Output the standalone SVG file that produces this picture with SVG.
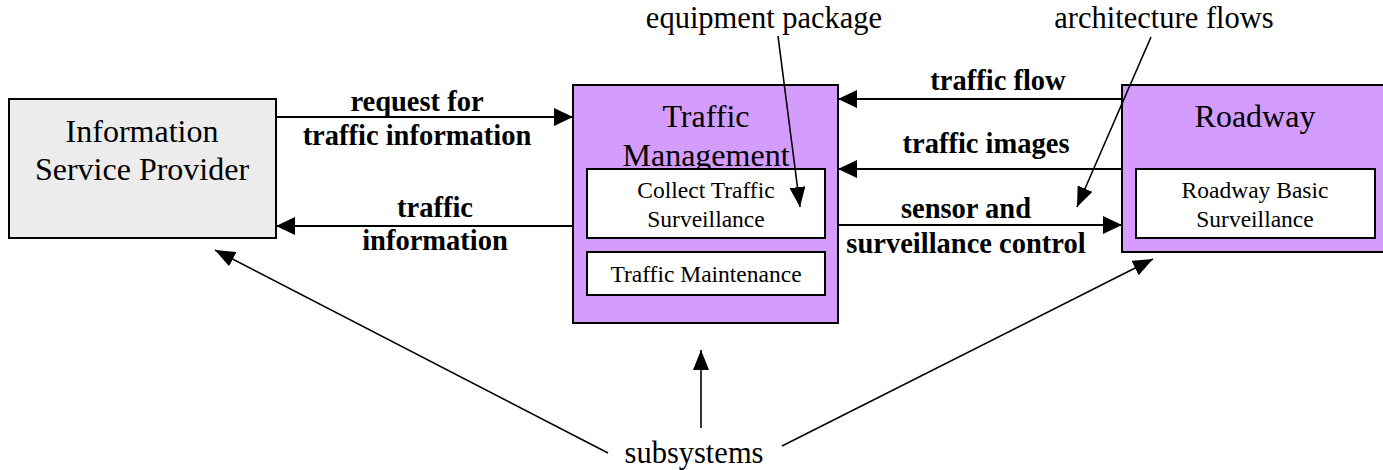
<svg xmlns="http://www.w3.org/2000/svg" width="1383" height="470" viewBox="0 0 1383 470">
<style>
.box{stroke:#000;stroke-width:2}
.gray{fill:#ececec}
.purple{fill:#d49cfd}
.inner{fill:#fff;stroke:#000;stroke-width:2}
.big{font-family:"Liberation Serif",serif;font-size:32px;text-anchor:middle;fill:#000}
.small{font-family:"Liberation Serif",serif;font-size:23.5px;text-anchor:middle;fill:#000}
.lbl{font-family:"Liberation Serif",serif;font-size:28.5px;font-weight:bold;text-anchor:middle;fill:#000}
.ann{font-family:"Liberation Serif",serif;font-size:30.5px;text-anchor:middle;fill:#000}
.flow{stroke:#000;stroke-width:2;fill:none;marker-end:url(#ah)}
.note{stroke:#000;stroke-width:1.6;fill:none;marker-end:url(#ah2)}
</style>
<defs>
<marker id="ah" markerUnits="userSpaceOnUse" markerWidth="20" markerHeight="18" refX="19" refY="9" orient="auto">
<path d="M0,0 L19,9 L0,18 z" fill="#000"/>
</marker>
<marker id="ah2" markerUnits="userSpaceOnUse" markerWidth="22" markerHeight="16" refX="20" refY="8" orient="auto">
<path d="M0,0 L20,8 L0,16 z" fill="#000"/>
</marker>
</defs>
<g id="isp">
<rect class="box gray" x="9" y="99" width="267" height="139"/>
<text class="big" x="142" y="142">Information</text>
<text class="big" x="142" y="180">Service Provider</text>
</g>
<g id="traffic-management">
<rect class="box purple" x="573" y="85" width="265" height="238"/>
<text class="big" x="706" y="127">Traffic</text>
<text class="big" x="706" y="166">Management</text>
<g id="collect-traffic-surveillance">
<rect class="inner" x="587" y="169" width="238" height="69"/>
<text class="small" x="706" y="198">Collect Traffic</text>
<text class="small" x="706" y="227">Surveillance</text>
</g>
<g id="traffic-maintenance">
<rect class="inner" x="587" y="252" width="238" height="43"/>
<text class="small" x="706" y="282">Traffic Maintenance</text>
</g>
</g>
<g id="roadway">
<rect class="box purple" x="1122" y="85" width="270" height="167"/>
<text class="big" x="1255" y="127">Roadway</text>
<g id="roadway-basic-surveillance">
<rect class="inner" x="1136" y="169" width="239" height="69"/>
<text class="small" x="1255" y="198">Roadway Basic</text>
<text class="small" x="1255" y="227">Surveillance</text>
</g>
</g>
<g id="connectors">
<line class="flow" x1="276" y1="117" x2="573" y2="117"/>
<line class="flow" x1="573" y1="226" x2="276" y2="226"/>
<line class="flow" x1="1122" y1="99" x2="838" y2="99"/>
<line class="flow" x1="1122" y1="169" x2="838" y2="169"/>
<line class="flow" x1="838" y1="225" x2="1122" y2="225"/>
<text class="lbl" x="417" y="111">request for</text>
<text class="lbl" x="417" y="145">traffic information</text>
<text class="lbl" x="435" y="217">traffic</text>
<text class="lbl" x="435" y="250">information</text>
<text class="lbl" x="998" y="90">traffic flow</text>
<text class="lbl" x="986" y="153">traffic images</text>
<text class="lbl" x="966" y="218">sensor and</text>
<text class="lbl" x="966" y="253">surveillance control</text>
</g>
<g id="annotations">
<text class="ann" x="764" y="28">equipment package</text>
<text class="ann" x="1164" y="28">architecture flows</text>
<text class="ann" x="694" y="463">subsystems</text>
<line class="note" x1="778" y1="36" x2="800" y2="207"/>
<line class="note" x1="1151" y1="37" x2="1077" y2="207"/>
<line class="note" x1="608" y1="453" x2="215" y2="250"/>
<line class="note" x1="701" y1="428" x2="701" y2="350"/>
<line class="note" x1="782" y1="446" x2="1153" y2="259"/>
</g>
</svg>
